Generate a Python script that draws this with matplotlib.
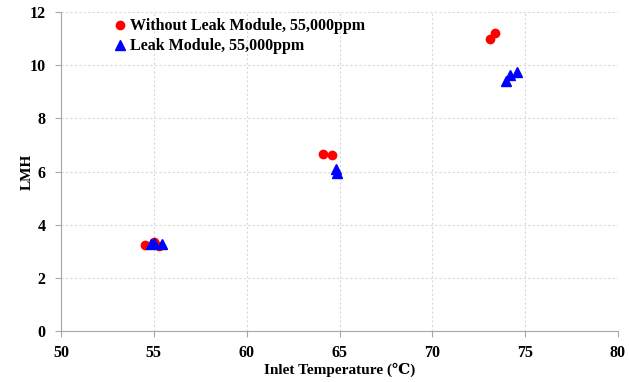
import matplotlib
matplotlib.use('Agg')
import matplotlib.pyplot as plt

plt.rcParams['font.family'] = ['Liberation Serif', 'DejaVu Serif']
plt.rcParams['font.weight'] = 'bold'

# data
temp_no_leak = [54.5, 55.0, 55.3, 64.1, 64.6, 73.1, 73.35]
lmh_no_leak = [3.22, 3.35, 3.2, 6.65, 6.62, 11.0, 11.21]
temp_leak = [54.85, 55.0, 55.45, 64.8, 64.85, 73.95, 74.2, 74.55]
lmh_leak = [3.27, 3.3, 3.28, 6.08, 5.95, 9.41, 9.62, 9.75]

fig = plt.figure(figsize=(6.29, 3.82), dpi=100)
ax = fig.add_axes([0.097, 0.1335, 0.8855, 0.835])

ax.plot(temp_no_leak, lmh_no_leak, 'o', color='#ff0000', markersize=6,
        label='Without Leak Module, 55,000ppm', zorder=3)
ax.plot(temp_leak, lmh_leak, '^', color='#0000ff', markersize=7,
        label='Leak Module, 55,000ppm', zorder=4)

ax.set_xlim(50, 80)
ax.set_ylim(0, 12)
ax.set_xticks(range(50, 81, 5))
ax.set_yticks(range(0, 13, 2))
ax.grid(True, color='#d9d9d9', linestyle=(0, (2, 2)), linewidth=0.8)
ax.set_axisbelow(True)

for s in ['top', 'right']:
    ax.spines[s].set_visible(False)
for s in ['left', 'bottom']:
    ax.spines[s].set_color('#a6a6a6')
ax.tick_params(colors='#a6a6a6', labelcolor='black', labelsize=11.5, length=4)
ax.tick_params(axis='y', pad=7)
ax.tick_params(axis='x', pad=6)
for lab in ax.get_xticklabels() + ax.get_yticklabels():
    lab.set_fontweight('bold')

ax.set_xlabel('Inlet Temperature (\u2103)', fontsize=11, fontweight='bold', labelpad=1)
ax.set_ylabel('LMH', fontsize=11, fontweight='bold', labelpad=-3)

ax.legend(loc='upper left', bbox_to_anchor=(0.063, 1.025), frameon=False,
          handletextpad=0.0, handlelength=1.2, labelspacing=0.25,
          prop={'size': 11.5, 'weight': 'bold'})

fig.savefig('out.png', dpi=100)
